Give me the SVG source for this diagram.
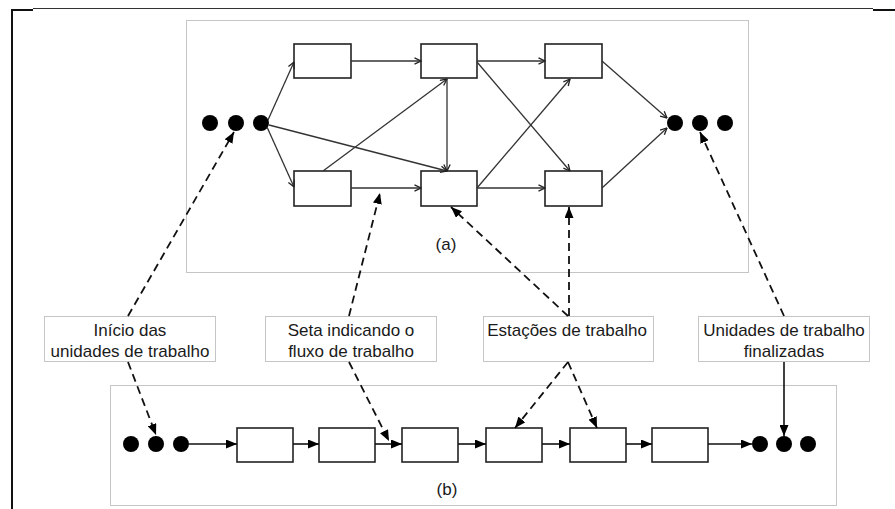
<svg xmlns="http://www.w3.org/2000/svg" width="895" height="509" viewBox="0 0 895 509">
  <style>
    .panel { fill: none; stroke: #8a8a8a; stroke-width: 1; stroke-dasharray: 1 1; }
    .note { fill: #ffffff; stroke: #8a8a8a; stroke-width: 1; stroke-dasharray: 1 1; }
    .station { fill: #ffffff; stroke: #222222; stroke-width: 1.6; }
    .unit { fill: #000000; }
    .flow { fill: none; stroke: #333333; stroke-width: 1.3; marker-end: url(#open); }
    .line { fill: none; stroke: #111111; stroke-width: 1.6; marker-end: url(#solid); }
    .pointer { fill: none; stroke: #111111; stroke-width: 1.8; stroke-dasharray: 8 5; marker-end: url(#solid); }
    .label { font-family: "Liberation Sans", Arial, sans-serif; font-size: 17px; fill: #1a1a1a; text-anchor: middle; }
  </style>
  <defs>
    <marker id="open" viewBox="0 0 8 8" refX="7.5" refY="4" markerWidth="8" markerHeight="8" markerUnits="userSpaceOnUse" orient="auto">
      <path d="M1,0.8 L7.5,4 L1,7.2" fill="none" stroke="#222" stroke-width="1.3"/>
    </marker>
    <marker id="solid" viewBox="0 0 11 9" refX="11" refY="4.5" markerWidth="11" markerHeight="9" markerUnits="userSpaceOnUse" orient="auto">
      <path d="M0,0 L11,4.5 L0,9 z" fill="#000"/>
    </marker>
  </defs>

  <rect x="0" y="0" width="895" height="509" fill="#ffffff"/>

  <!-- page frame -->
  <g id="frame" fill="none" stroke="#111">
    <line x1="33" y1="8.5" x2="873" y2="8.5" stroke-width="1" stroke="#333"/>
    <line x1="11" y1="10" x2="33" y2="10" stroke-width="2"/>
    <line x1="873" y1="10" x2="895" y2="10" stroke-width="2"/>
    <line x1="12" y1="9" x2="12" y2="509" stroke-width="2"/>
  </g>

  <!-- panel (a): network of stations -->
  <g id="panel-a">
    <rect class="panel" x="186.5" y="20.5" width="562" height="252"/>
    <text class="label" x="446" y="250">(a)</text>
  </g>
  <g id="a-start">
    <circle class="unit" cx="210" cy="123" r="8"/>
    <circle class="unit" cx="236" cy="123" r="8"/>
    <circle class="unit" cx="261" cy="123" r="8"/>
  </g>
  <g id="a-s1"><rect class="station" x="294" y="44" width="57" height="34"/></g>
  <g id="a-s2"><rect class="station" x="421" y="44" width="56" height="34"/></g>
  <g id="a-s3"><rect class="station" x="545" y="44" width="57" height="34"/></g>
  <g id="a-s4"><rect class="station" x="294" y="171" width="57" height="35"/></g>
  <g id="a-s5"><rect class="station" x="421" y="171" width="56" height="35"/></g>
  <g id="a-s6"><rect class="station" x="545" y="171" width="57" height="35"/></g>
  <g id="a-end">
    <circle class="unit" cx="675" cy="123" r="8"/>
    <circle class="unit" cx="700" cy="123" r="8"/>
    <circle class="unit" cx="725" cy="123" r="8"/>
  </g>

  <!-- panel (b): serial line -->
  <g id="panel-b">
    <rect class="panel" x="110.5" y="385.5" width="726" height="120"/>
    <text class="label" x="447" y="495">(b)</text>
  </g>
  <g id="b-start">
    <circle class="unit" cx="131" cy="444" r="8"/>
    <circle class="unit" cx="156" cy="444" r="8"/>
    <circle class="unit" cx="181" cy="444" r="8"/>
  </g>
  <g id="b-s1"><rect class="station" x="237" y="428" width="56" height="34"/></g>
  <g id="b-s2"><rect class="station" x="319" y="428" width="56" height="34"/></g>
  <g id="b-s3"><rect class="station" x="402" y="428" width="56" height="34"/></g>
  <g id="b-s4"><rect class="station" x="486" y="428" width="56" height="34"/></g>
  <g id="b-s5"><rect class="station" x="570" y="428" width="56" height="34"/></g>
  <g id="b-s6"><rect class="station" x="652" y="428" width="56" height="34"/></g>
  <g id="b-end">
    <circle class="unit" cx="760" cy="444" r="8"/>
    <circle class="unit" cx="784" cy="444" r="8"/>
    <circle class="unit" cx="808" cy="444" r="8"/>
  </g>

  <!-- callout notes -->
  <g id="note-inicio">
    <rect class="note" x="44.5" y="316.5" width="171" height="45"/>
    <text class="label" x="130" y="336">Início das</text>
    <text class="label" x="130" y="357">unidades de trabalho</text>
  </g>
  <g id="note-seta">
    <rect class="note" x="265.5" y="316.5" width="171" height="45"/>
    <text class="label" x="351" y="336">Seta indicando o</text>
    <text class="label" x="351" y="357">fluxo de trabalho</text>
  </g>
  <g id="note-estacoes">
    <rect class="note" x="483.5" y="316.5" width="170" height="45"/>
    <text class="label" x="567" y="336">Estações de trabalho</text>
  </g>
  <g id="note-finalizadas">
    <rect class="note" x="698.5" y="316.5" width="171" height="45"/>
    <text class="label" x="784" y="336">Unidades de trabalho</text>
    <text class="label" x="784" y="357">finalizadas</text>
  </g>

  <!-- connectors -->
  <g id="connectors">
    <!-- panel (a) work flow -->
    <path class="flow" d="M268,120 L294,62"/>
    <path class="flow" d="M267,127 L294,187"/>
    <path class="flow" d="M269,125 L447,171"/>
    <path class="flow" d="M351,61 L421,61"/>
    <path class="flow" d="M323,171 L447,79"/>
    <path class="flow" d="M447,78 L447,171"/>
    <path class="flow" d="M351,188 L421,188"/>
    <path class="flow" d="M477,61 L545,61"/>
    <path class="flow" d="M477,62 L570,171"/>
    <path class="flow" d="M477,188 L570,79"/>
    <path class="flow" d="M477,188 L545,188"/>
    <path class="flow" d="M602,61 L667,118"/>
    <path class="flow" d="M602,188 L667,128"/>

    <!-- panel (b) work flow -->
    <path class="line" d="M189,444 L237,444"/>
    <path class="line" d="M293,444 L319,444"/>
    <path class="line" d="M375,444 L402,444"/>
    <path class="line" d="M458,444 L486,444"/>
    <path class="line" d="M542,444 L570,444"/>
    <path class="line" d="M626,444 L652,444"/>
    <path class="line" d="M708,444 L752,444"/>

    <!-- callout pointers -->
    <path class="pointer" d="M128,316 L234,132"/>
    <path class="pointer" d="M128,362 L156,435"/>
    <path class="pointer" d="M349,316 L380,193"/>
    <path class="pointer" d="M349,362 L389,441"/>
    <path class="pointer" d="M568,316 L451,207"/>
    <path class="pointer" d="M569,316 L569,207"/>
    <path class="pointer" d="M568,362 L515,428"/>
    <path class="pointer" d="M568,362 L597,428"/>
    <path class="pointer" d="M784,316 L700,132"/>
    <path class="line" d="M784,362 L784,436"/>
  </g>
</svg>
